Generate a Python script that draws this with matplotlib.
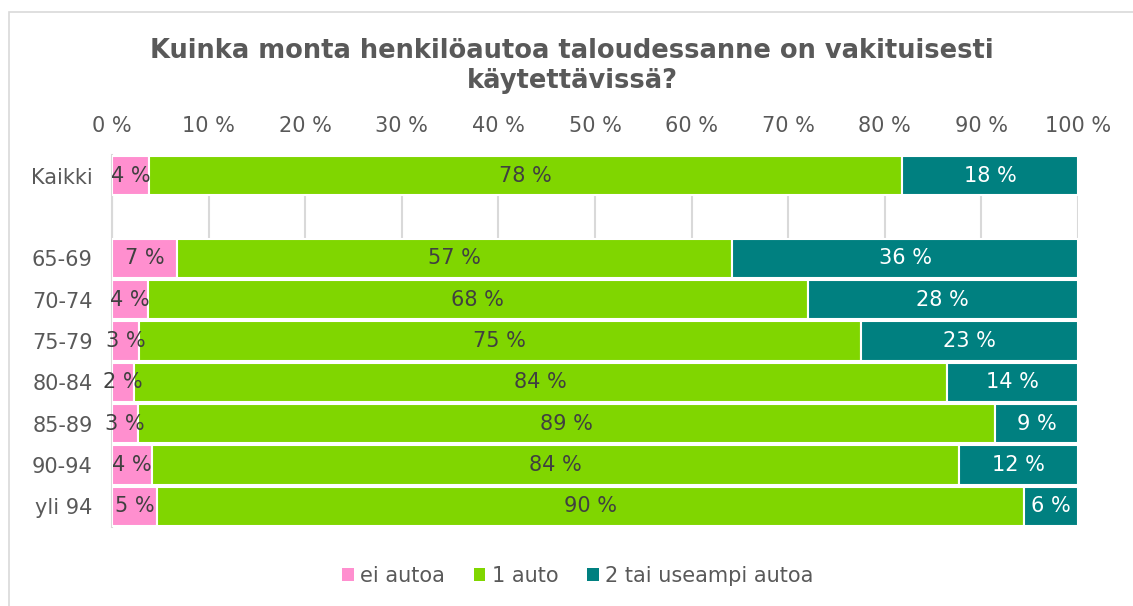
import matplotlib
matplotlib.use("Agg")
import matplotlib.pyplot as plt
from matplotlib.patches import Rectangle, Patch
import numpy as np

plt.rcParams['font.family'] = ['DejaVu Sans']

title = "Kuinka monta henkilöautoa taloudessanne on vakituisesti\nkäytettävissä?"
categories = ["Kaikki", "", "65-69", "70-74", "75-79", "80-84", "85-89", "90-94", "yli 94"]
series_names = ["ei autoa", "1 auto", "2 tai useampi autoa"]
# values in percent (None = blank separator row)
ei_autoa = [3.8, None, 6.7, 3.7, 2.8, 2.3, 2.7, 4.1, 4.7]
yksi_auto = [78.0, None, 57.5, 68.3, 74.7, 84.1, 88.7, 83.6, 89.7]
kaksi_tai_useampi = [18.2, None, 35.8, 28.0, 22.5, 13.6, 8.6, 12.3, 5.6]
labels_ei = ["4 %", "", "7 %", "4 %", "3 %", "2 %", "3 %", "4 %", "5 %"]
labels_yksi = ["78 %", "", "57 %", "68 %", "75 %", "84 %", "89 %", "84 %", "90 %"]
labels_kaksi = ["18 %", "", "36 %", "28 %", "23 %", "14 %", "9 %", "12 %", "6 %"]
xticks = [0, 10, 20, 30, 40, 50, 60, 70, 80, 90, 100]
xticklabels = [f"{t} %" for t in xticks]

colors = ["#FF8FCF", "#80D600", "#008080"]
label_colors = ["#404040", "#404040", "#FFFFFF"]
gray_text = "#595959"
grid_col = "#D9D9D9"
FS = 15

W, H = 1133, 606
fig = plt.figure(figsize=(W / 100, H / 100), dpi=100)
ax = fig.add_axes([112 / W, 1 - 527 / H, (1078 - 112) / W, (527 - 155) / H])

# chart frame
fig.patches.append(Rectangle((9 / W, -0.05), 1.2, 1 - 12 / H + 0.05, transform=fig.transFigure,
                             fill=False, edgecolor=grid_col, linewidth=1.2))

ypos = np.arange(len(categories))
rows = [i for i, v in enumerate(ei_autoa) if v is not None]
y = ypos[rows]
left = np.zeros(len(rows))
for vals, labs, col, lcol, name in zip(
        [ei_autoa, yksi_auto, kaksi_tai_useampi],
        [labels_ei, labels_yksi, labels_kaksi],
        colors, label_colors, series_names):
    v = np.array([vals[i] for i in rows])
    bars = ax.barh(y, v, left=left, height=0.95, color=col, edgecolor="white",
                   linewidth=1.5, label=name, zorder=3)
    ax.bar_label(bars, labels=[labs[i] for i in rows], label_type="center",
                 color=lcol, fontsize=FS, zorder=4)
    left = left + v

ax.set_xlim(0, 100)
ax.set_ylim(len(categories) - 0.5, -0.5)
ax.set_yticks(ypos)
ax.set_yticklabels(categories, fontsize=FS, color=gray_text)
ax.xaxis.tick_top()
ax.set_xticks(xticks)
ax.set_xticklabels(xticklabels, fontsize=FS, color=gray_text)
ax.tick_params(axis="y", length=0, pad=14)
ax.tick_params(axis="x", length=0, pad=14)
ax.grid(axis="x", color=grid_col, linewidth=1.5, zorder=0)
ax.set_axisbelow(True)
for s in ["top", "right", "bottom"]:
    ax.spines[s].set_visible(False)
ax.spines["left"].set_color(grid_col)
ax.spines["left"].set_linewidth(1.5)

fig.text(0.505, 1 - 66 / H, title, ha="center", va="center", fontsize=18.5,
         fontweight="bold", color=gray_text, linespacing=1.25)

handles = [Patch(facecolor=c, edgecolor="none") for c in colors]
fig.legend(handles, series_names, loc="center", bbox_to_anchor=(0.51, 1 - 576 / H),
           ncol=3, frameon=False, fontsize=FS, labelcolor=gray_text,
           handlelength=0.55, handleheight=0.55, handletextpad=0.3, columnspacing=1.4)

fig.savefig("out.png", dpi=100)
